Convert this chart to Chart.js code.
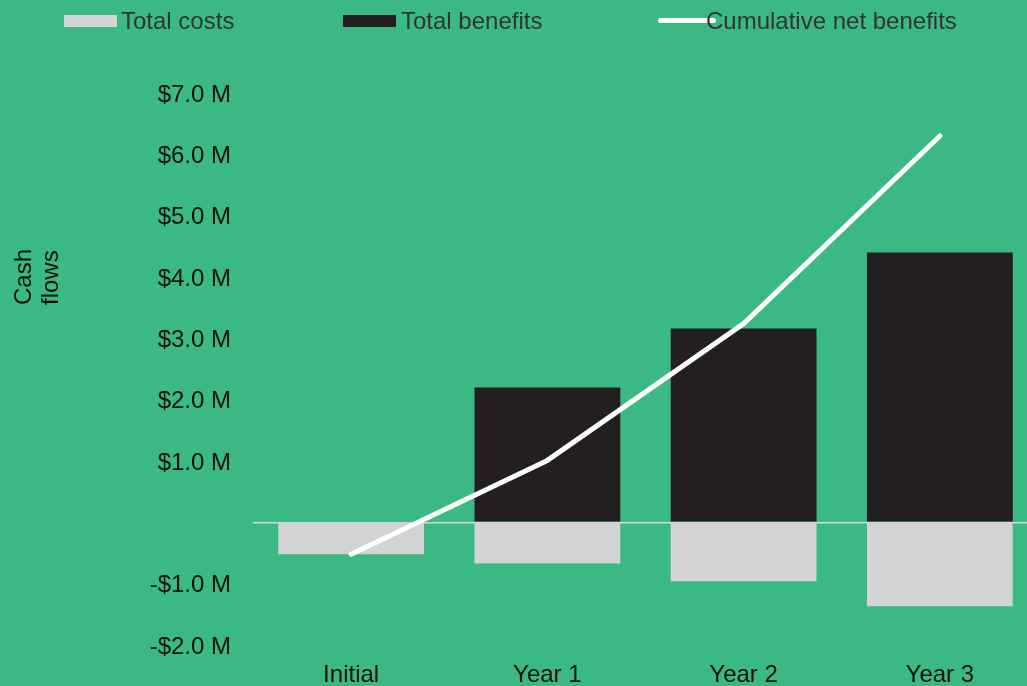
<!DOCTYPE html>
<html>
<head>
<meta charset="utf-8">
<script src="https://cdn.jsdelivr.net/npm/chart.js@4.4.1/dist/chart.umd.min.js"></script>
<style>
    html, body { margin: 0; padding: 0; overflow: hidden; background: #3bb982; }
    .wrap { position: relative; width: 1040px; height: 686px; }
    #cv { position: absolute; left: 0; top: 0; }
    .legend { position: absolute; top: 0; left: 0; width: 1040px; height: 44px;
              font-family: "Liberation Sans", Arial, sans-serif; font-size: 24px; color: #333; }
    .legend span { position: absolute; }
    .legend .txt { top: 8px; line-height: 26px; white-space: nowrap; }
</style>
</head>
<body>
<div class="wrap">
    <canvas id="cv" width="1040" height="686"></canvas>
    <div class="legend" id="legend"></div>
</div>
<script>
    "use strict";

    // ---- data ($ millions) ----
    const categories = ["Initial", "Year 1", "Year 2", "Year 3"];
    const totalCosts = [-0.52, -0.67, -0.96, -1.37];
    const totalBenefits = [0, 2.20, 3.16, 4.40];
    const cumulativeNet = [-0.52, 1.01, 3.24, 6.30];
    const yTicks = [-2, -1, 0, 1, 2, 3, 4, 5, 6, 7];

    const COL = {
        bg: "#3bb982",
        cost: "#d1d3d4",
        benefit: "#231f20",
        line: "#ffffff",
        zero: "#d6d8d8",
        text: "#111111"
    };
    const FONT = "'Liberation Sans', Arial, sans-serif";
    const FS = 24;

    // legend (plain html, positioned like the original)
    const LEGEND = [
        { label: "Total costs", kind: "box", color: COL.cost, x: 64, tx: 121 },
        { label: "Total benefits", kind: "box", color: COL.benefit, x: 343, tx: 401 },
        { label: "Cumulative net benefits", kind: "line", color: COL.line, x: 658, tx: 706 }
    ];
    const legendEl = document.getElementById("legend");
    LEGEND.forEach(it => {
        const mark = document.createElement("span");
        if (it.kind === "box") {
            mark.style.cssText = `left:${it.x}px;top:15px;width:53px;height:12px;background:${it.color}`;
        } else {
            mark.style.cssText = `left:${it.x}px;top:18px;width:58px;height:5px;border-radius:3px;background:${it.color}`;
        }
        const txt = document.createElement("span");
        txt.className = "txt";
        txt.style.left = it.tx + "px";
        txt.textContent = it.label;
        legendEl.appendChild(mark);
        legendEl.appendChild(txt);
    });

    function fmtMoney(v) {
        if (v === 0) return "";
        return (v < 0 ? "-" : "") + "$" + Math.abs(v).toFixed(1) + " M";
    }

    // rotated two-line axis title
    const axisTitle = {
        id: "axisTitle",
        afterDraw(chart) {
            const ctx = chart.ctx;
            ctx.save();
            ctx.fillStyle = COL.text;
            ctx.font = FS + "px " + FONT;
            ctx.textAlign = "left";
            ctx.textBaseline = "alphabetic";
            ctx.translate(31, 305);
            ctx.rotate(-Math.PI / 2);
            ctx.fillText("Cash", 0, 0);
            ctx.fillText("flows", 0, 27);
            ctx.restore();
        }
    };

    new Chart(document.getElementById("cv").getContext("2d"), {
        data: {
            labels: categories,
            datasets: [
                {
                    type: "line",
                    label: "Cumulative net benefits",
                    data: cumulativeNet,
                    borderColor: COL.line,
                    borderWidth: 5,
                    borderCapStyle: "round",
                    borderJoinStyle: "round",
                    pointRadius: 0,
                    tension: 0,
                    stack: "cum",
                    order: 0
                },
                {
                    type: "bar",
                    label: "Total costs",
                    data: totalCosts,
                    backgroundColor: COL.cost,
                    stack: "flows",
                    order: 1
                },
                {
                    type: "bar",
                    label: "Total benefits",
                    data: totalBenefits,
                    backgroundColor: COL.benefit,
                    stack: "flows",
                    order: 1
                }
            ]
        },
        options: {
            responsive: false,
            animation: false,
            layout: { padding: { top: 93, right: 2, left: 0, bottom: 0 } },
            datasets: { bar: { categoryPercentage: 1, barPercentage: 0.743 } },
            plugins: {
                legend: { display: false },
                tooltip: { enabled: false }
            },
            scales: {
                x: {
                    stacked: true,
                    grid: { display: false, drawTicks: false },
                    border: { display: false },
                    ticks: { color: COL.text, font: { family: FONT, size: FS }, padding: 16 },
                    afterFit: s => { s.height = 41; }
                },
                y: {
                    stacked: true,
                    min: -2,
                    max: 7,
                    afterBuildTicks: s => { s.ticks = yTicks.map(v => ({ value: v })); },
                    grid: {
                        drawTicks: false,
                        lineWidth: 1.5,
                        color: c => (c.tick && c.tick.value === 0 ? COL.zero : "rgba(0,0,0,0)")
                    },
                    border: { display: false },
                    ticks: {
                        color: COL.text,
                        font: { family: FONT, size: FS },
                        padding: 22,
                        labelOffset: 2,
                        callback: v => fmtMoney(v)
                    },
                    afterFit: s => { s.width = 253; }
                }
            }
        },
        plugins: [axisTitle]
    });
</script>
</body>
</html>
